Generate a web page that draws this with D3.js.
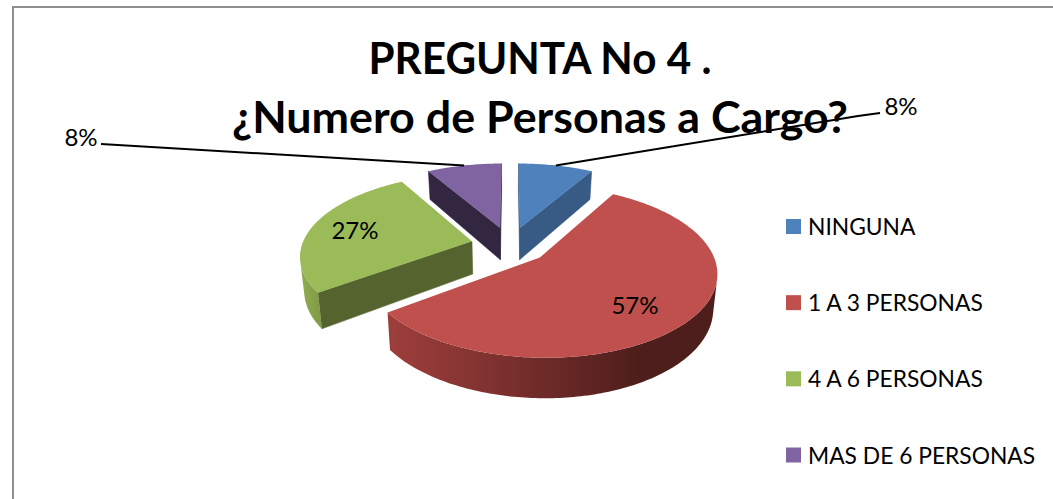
<!DOCTYPE html>
<html><head><meta charset="utf-8">
<script src="https://cdn.jsdelivr.net/npm/d3@7/dist/d3.min.js"></script>
<style>html,body{margin:0;padding:0;background:#fff;overflow:hidden}svg{display:block;font-family:Lato,"Open Sans",sans-serif}</style>
</head><body><svg id="c" width="1053" height="499"></svg>
<script>
const categories = ["NINGUNA","1 A 3 PERSONAS","4 A 6 PERSONAS","MAS DE 6 PERSONAS"];
const values = [8.4,56.5,26.7,8.4];
const labels = ["8%","57%","27%","8%"];
const topColors = ["#4f81bd","#c0504d","#9bbb59","#8064a2"];
const wallColors = ["#375b85","#4d1e1b","#55632f","#322640"];
const titleLines = ["PREGUNTA No 4 .","¿Numero de Personas a Cargo?"];

const svg = d3.select("#c");
const W=1053,H=499;
svg.append("rect").attr("x",13).attr("y",7).attr("width",W+20).attr("height",H+20)
  .attr("fill","#fff").attr("stroke","#8e8e8e").attr("stroke-width",2);

// projection of pie plane with perspective
const Cx=510,Cy=245,R=170,Rk=79.7,persp=0.16,depth=33,explode=0.23;
function proj(X,Y,z){
  z=z||0;
  const p=1/(1-persp*Y);
  return [Cx+R*X*p*(1-0.02*z/depth),Cy+Rk*Y*p+z*p];
}
const pie=d3.pie().sort(null).value(d=>d)(values);
const line=d3.line();
const color=d3.scaleOrdinal().domain(categories).range(topColors);
const wall=d3.scaleOrdinal().domain(categories).range(wallColors);
const defs=svg.append("defs");

const g1=defs.append("linearGradient").attr("id","wallRed").attr("gradientUnits","userSpaceOnUse")
  .attr("x1",394).attr("x2",640).attr("y1",0).attr("y2",0);
g1.append("stop").attr("offset",0).attr("stop-color","#9c3e3b");
g1.append("stop").attr("offset",.45).attr("stop-color","#7b302e");
g1.append("stop").attr("offset",1).attr("stop-color","#4d1e1b");
const g2=defs.append("linearGradient").attr("id","wallGreen").attr("gradientUnits","userSpaceOnUse")
  .attr("x1",298).attr("x2",322).attr("y1",0).attr("y2",0);
g2.append("stop").attr("offset",0).attr("stop-color","#93b153");
g2.append("stop").attr("offset",1).attr("stop-color","#7e9746");

function sliceGeom(d){
  const mid=(d.startAngle+d.endAngle)/2;
  const ox=explode*Math.sin(mid), oy=-explode*Math.cos(mid);
  const n=Math.ceil((d.endAngle-d.startAngle)/(Math.PI/180));
  const rim=d3.range(n+1).map(i=>{
    const a=d.startAngle+(d.endAngle-d.startAngle)*i/n;
    return [ox+Math.sin(a),oy-Math.cos(a)];
  });
  return {mid,ox,oy,rim};
}
const order=[3,0,2,1];
const gs=svg.append("g");
order.forEach(i=>{
  const d=pie[i],cat=categories[i],s=sliceGeom(d),g=gs.append("g");
  const apex=[s.ox,s.oy];
  const quad=(a,b)=>[proj(a[0],a[1],0),proj(b[0],b[1],0),proj(b[0],b[1],depth),proj(a[0],a[1],depth)];
  const signed=q=>d3.polygonArea(q);
  [[apex,s.rim[0]],[s.rim[s.rim.length-1],apex]].forEach(([a,b])=>{
    const q=quad(a,b);
    if(signed(q)>0) g.append("path").attr("d",line(q)+"Z").attr("fill",wall(cat)).attr("stroke",wall(cat)).attr("stroke-width",.5);
  });
  const vis=[];
  for(let k=0;k<s.rim.length-1;k++){
    if(signed(quad(s.rim[k],s.rim[k+1]))>0){vis.push(s.rim[k]);vis.push(s.rim[k+1]);}
  }
  if(vis.length){
    const top=vis.map(p=>proj(p[0],p[1],0)),bot=vis.map(p=>proj(p[0],p[1],depth)).reverse();
    const fill=i===1?"url(#wallRed)":i===2?"url(#wallGreen)":wall(cat);
    g.append("path").attr("d",line(top.concat(bot))+"Z").attr("fill",fill);
  }
  const face=[apex].concat(s.rim).map(p=>proj(p[0],p[1],0));
  g.append("path").attr("d",line(face)+"Z").attr("fill",color(cat));
  d.geom=s;
});

// title
const titleWidths=[343,616];
svg.selectAll("text.title").data(titleLines).join("text").attr("class","title")
  .attr("x",540).attr("y",(d,i)=>i?133:74).attr("text-anchor","middle")
  .attr("font-size",43).attr("font-weight",700).attr("fill","#000")
  .attr("textLength",(d,i)=>titleWidths[i]).attr("lengthAdjust","spacingAndGlyphs").text(d=>d);

// leader lines
const rimMid=i=>{const s=pie[i].geom;return proj(s.ox+Math.sin(s.mid),s.oy-Math.cos(s.mid),0);};
svg.append("path").attr("d",line([rimMid(0),[858,116],[880,113]])).attr("fill","none").attr("stroke","#000").attr("stroke-width",2);
svg.append("path").attr("d",line([rimMid(3),[101,144]])).attr("fill","none").attr("stroke","#000").attr("stroke-width",2);

// data labels
const labelPos=[[901,115],[635,314],[355,239],[81,146]];
svg.selectAll("text.lab").data(labels).join("text").attr("class","lab")
  .attr("x",(d,i)=>labelPos[i][0]).attr("y",(d,i)=>labelPos[i][1]).attr("text-anchor","middle")
  .attr("font-size",24).attr("fill","#000").text(d=>d);

// legend
const legendY=d3.scalePoint().domain(categories).range([226.5,455]);
const lg=svg.selectAll("g.lg").data(categories).join("g").attr("class","lg");
lg.append("rect").attr("x",786).attr("y",d=>legendY(d)-7.5).attr("width",15).attr("height",15).attr("fill",d=>color(d));
lg.append("text").attr("x",808).attr("y",d=>legendY(d)+8.5).attr("font-size",22.8).attr("fill","#000").text(d=>d);
</script></body></html>
